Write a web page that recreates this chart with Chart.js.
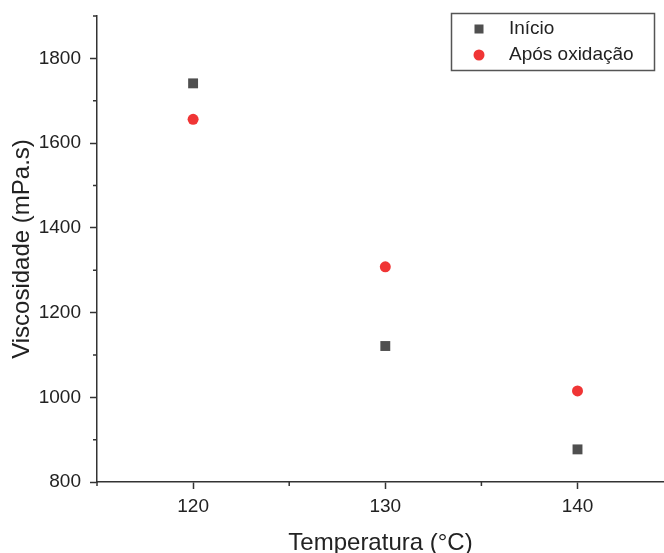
<!DOCTYPE html>
<html>
<head>
<meta charset="utf-8">
<script src="https://cdn.jsdelivr.net/npm/chart.js@4.4.0/dist/chart.umd.min.js"></script>
<style>
  html, body { margin: 0; padding: 0; background: #fff; }
  #wrap { width: 664px; height: 553px; }
</style>
</head>
<body>
<div id="wrap"><canvas id="viscChart" width="664" height="553"></canvas></div>
<script>
// Dados
const temperaturas = [120, 130, 140];
const viscInicio = [1741, 1121, 877];
const viscOxidacao = [1656, 1308, 1015];
const serieNomes = ['Início', 'Após oxidação'];

const xTicks = [115, 120, 125, 130, 135, 140];
const yTicks = [800, 900, 1000, 1100, 1200, 1300, 1400, 1500, 1600, 1700, 1800, 1900];

const fonte = 'Liberation Sans, Arial, sans-serif';
const corTexto = '#222';
const corEixo = '#333';

function pontos(vals) {
    return temperaturas.map((t, i) => ({ x: t, y: vals[i] }));
}

const isMajorX = v => v % 10 === 0;
const isMajorY = v => v % 200 === 0;

// Ticks menores (mais curtos) desenhados a partir das escalas
const minorTicks = {
    id: 'minorTicks',
    afterDraw(chart) {
        const ctx = chart.ctx;
        const xs = chart.scales.x, ys = chart.scales.y;
        ctx.save();
        ctx.strokeStyle = corEixo;
        ctx.lineWidth = 1.5;
        ctx.beginPath();
        xs.ticks.forEach(t => {
            if (!isMajorX(t.value)) {
                const px = xs.getPixelForValue(t.value);
                ctx.moveTo(px, xs.top);
                ctx.lineTo(px, xs.top + 4);
            }
        });
        ys.ticks.forEach(t => {
            if (!isMajorY(t.value)) {
                const py = ys.getPixelForValue(t.value);
                ctx.moveTo(ys.right, py);
                ctx.lineTo(ys.right - 4, py);
            }
        });
        ctx.stroke();
        ctx.restore();
    }
};

// Legenda com caixa, como no original
const legendaCaixa = {
    id: 'legendaCaixa',
    afterDraw(chart) {
        const ctx = chart.ctx;
        ctx.save();
        ctx.strokeStyle = '#555';
        ctx.lineWidth = 1.5;
        ctx.strokeRect(451.5, 13.5, 203, 57);
        ctx.font = '19px ' + fonte;
        ctx.textBaseline = 'middle';
        chart.data.datasets.forEach((ds, i) => {
            const y = 29 + i * 26;
            ctx.fillStyle = ds.backgroundColor;
            if (ds.pointStyle === 'rect') {
                ctx.fillRect(479 - 4.5, y - 4.5, 9, 9);
            } else {
                ctx.beginPath();
                ctx.arc(479, y, 5.5, 0, Math.PI * 2);
                ctx.fill();
            }
            ctx.fillStyle = corTexto;
            ctx.fillText(ds.label, 509, y);
        });
        ctx.restore();
    }
};

const ctx = document.getElementById('viscChart').getContext('2d');
const viscChart = new Chart(ctx, {
    type: 'scatter',
    data: {
        datasets: [{
            label: serieNomes[0],
            data: pontos(viscInicio),
            pointStyle: 'rect',
            pointRadius: 7,
            pointHoverRadius: 7,
            borderWidth: 0,
            backgroundColor: '#4f4f4f'
        }, {
            label: serieNomes[1],
            data: pontos(viscOxidacao),
            pointStyle: 'circle',
            pointRadius: 5.5,
            pointHoverRadius: 5.5,
            borderWidth: 0,
            backgroundColor: '#f03535'
        }]
    },
    options: {
        responsive: false,
        animation: false,
        layout: { autoPadding: false, padding: { top: 16, right: 0, bottom: 0, left: 0 } },
        plugins: {
            legend: { display: false },
            tooltip: { enabled: false }
        },
        scales: {
            x: {
                type: 'linear',
                min: 115,
                max: 144.5,
                afterBuildTicks: s => { s.ticks = xTicks.map(v => ({ value: v })); },
                afterFit: s => {
                    s.height = 71;
                    s.paddingLeft = s.paddingRight = s.paddingTop = s.paddingBottom = 0;
                },
                ticks: {
                    autoSkip: false,
                    maxRotation: 0,
                    padding: 6,
                    color: corTexto,
                    font: { family: fonte, size: 19 },
                    callback: v => isMajorX(v) ? String(v) : ''
                },
                grid: {
                    drawOnChartArea: false,
                    tickLength: 7,
                    tickWidth: 1.5,
                    tickColor: c => (c.tick && isMajorX(c.tick.value)) ? corEixo : 'rgba(0,0,0,0)'
                },
                border: { display: true, color: corEixo, width: 1.5 },
                title: {
                    display: true,
                    text: 'Temperatura (°C)',
                    color: corTexto,
                    font: { family: fonte, size: 24, lineHeight: 1 },
                    padding: { top: 0, bottom: -2 }
                }
            },
            y: {
                type: 'linear',
                min: 800,
                max: 1900,
                afterBuildTicks: s => { s.ticks = yTicks.map(v => ({ value: v })); },
                afterFit: s => {
                    s.width = 97;
                    s.paddingLeft = s.paddingRight = s.paddingTop = s.paddingBottom = 0;
                },
                ticks: {
                    autoSkip: false,
                    padding: 9,
                    color: corTexto,
                    font: { family: fonte, size: 19 },
                    callback: v => isMajorY(v) ? String(v) : ''
                },
                grid: {
                    drawOnChartArea: false,
                    tickLength: 7,
                    tickWidth: 1.5,
                    tickColor: c => (c.tick && isMajorY(c.tick.value)) ? corEixo : 'rgba(0,0,0,0)'
                },
                border: { display: true, color: corEixo, width: 1.5 },
                title: {
                    display: true,
                    text: 'Viscosidade (mPa.s)',
                    color: corTexto,
                    font: { family: fonte, size: 24, lineHeight: 1 },
                    padding: { top: 10, bottom: 0 }
                }
            }
        }
    },
    plugins: [minorTicks, legendaCaixa]
});
</script>
</body>
</html>
